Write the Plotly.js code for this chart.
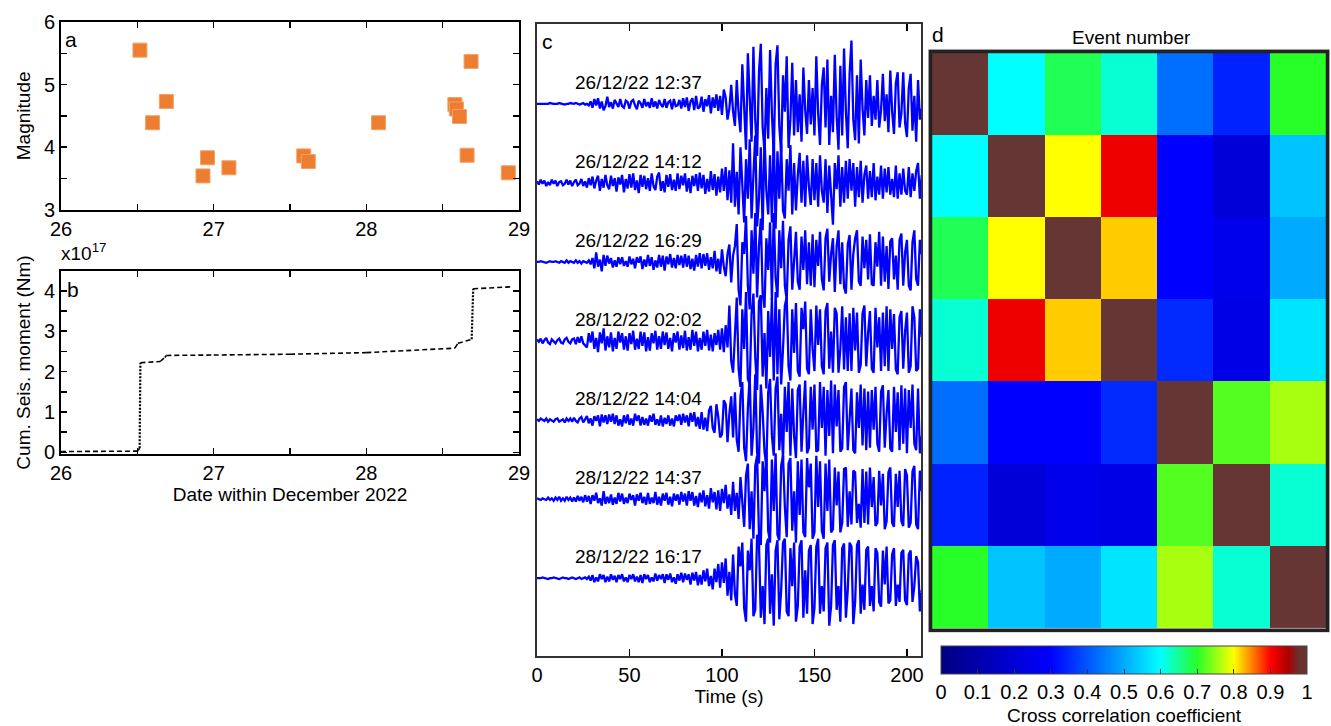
<!DOCTYPE html>
<html><head><meta charset="utf-8">
<script src="https://cdn.plot.ly/plotly-3.0.1.min.js"></script>
<style>html,body{margin:0;padding:0;background:#fff}#chart{width:1331px;height:726px}</style>
</head><body><div id="chart"></div>
<script>
// ---------- Panel a: magnitudes ----------
const magDay = [26.517, 26.60, 26.69, 26.93, 26.96, 27.10, 27.59, 27.62, 28.08, 28.58, 28.59, 28.61, 28.66, 28.686, 28.93];
const magVal = [5.55, 4.39, 4.73, 3.54, 3.83, 3.67, 3.86, 3.77, 4.39, 4.68, 4.61, 4.49, 3.87, 5.37, 3.59];

// ---------- Panel b: cumulative seismic moment (x1e17 Nm) ----------
const cumDay    = [26.00, 26.50, 26.515, 26.52, 26.65, 26.68, 26.69, 27.00, 27.50, 28.00, 28.58, 28.60, 28.69, 28.70, 28.95];
const cumMoment = [0.02, 0.03, 0.10, 2.22, 2.25, 2.35, 2.40, 2.41, 2.43, 2.47, 2.58, 2.70, 2.80, 4.05, 4.10];

// ---------- Panel c: waveforms (amplitude in % of trace spacing, 1 sample per second) ----------
const waveLabels = ['26/12/22 12:37','26/12/22 14:12','26/12/22 16:29','28/12/22 02:02','28/12/22 14:04','28/12/22 14:37','28/12/22 16:17'];
const sampleInterval = 1; // s
const w1 = [0,0,0,0,0,0,0,1,0,0, 0,0,1,0,0,-1,0,0,1,0, 0,1,0,-1,0,1,-1,0,-2,3,
 -5,6,-2,7,-6,3,-8,-3,9,-4, 2,-6,5,1,-4,6,-3,-5,4,2, -6,3,5,-2,-7,4,1,-5,6,-3,
 2,-5,7,-4,3,-6,5,-1,-4,6, -5,2,4,-7,6,-3,-2,5,-6,7, -4,8,-9,3,7,-8,10,-6,-4,9,
 -10,6,-3,11,-12,8,-5,12,-9,10, -14,18,8,-20,-6,24,-10,-28,30,-12, -36,50,-8,-58,64,10,-48,72,-20,-66,
 40,76,-30,-60,20,-44,68,-12,-66,50, 74,-28,-62,36,-10,60,-56,-20,52,-40, 30,-36,12,-48,46,-8,-38,30,-26,20,
 -40,60,-12,-52,24,46,-30,56,-52,10, -36,62,-16,-58,48,-40,70,-10,-56,38, 80,-20,-46,36,-50,56,-6,-40,30,-18,
 36,-28,10,-20,30,-30,-8,38,-22,12, -36,42,-10,-38,26,40,-30,-12,40,-24, -42,20,38,-34,10,-48,30,-20,-6];
const w2 = [2,-2,4,-1,3,-4,1,-3,4,-1, 3,-4,1,2,-3,-1,4,-2,3,-4, 1,4,-3,-1,5,-4,2,-6,6,-3,
 8,-7,3,9,-10,5,-6,10,-3,-8, 9,-4,6,-11,7,-2,10,-12,5,-7, 11,-6,12,-9,3,-13,10,-5,9,-8,
 6,-10,12,-4,-9,8,13,-10,2,-12, 10,-5,11,-9,4,-10,12,-8,9,-3, 12,-11,6,-13,9,-4,11,-10,13,-7,
 10,-14,5,-11,15,-9,11,-16,8,-12, 18,-10,20,-22,16,-25,50,-30,14,-40, 45,-10,-50,30,-20,55,-45,10,60,-55,
 -20,45,-60,58,-10,-40,35,-50,62,-58, 40,-20,50,-35,-45,30,-10,48,-40,25, -35,10,38,-25,28,-30,35,-5,-28,30,
 -22,25,-30,35,-10,-25,30,-38,22,-15, -53,25,-8,35,-30,20,-25,28,-20,30, -10,25,-30,20,-18,28,-25,10,22,-20,
 15,-18,25,-22,8,-15,22,-20,18,-12, 20,-15,5,-18,22,-20,12,-15,18,-10, -15,20,-18,12,-10,15,25,-20,10];
const w3 = [0,0,1,0,0,-1,0,1,0,0, 1,0,-1,1,0,-1,2,-1,1,0, -1,2,-1,1,-2,1,0,-1,2,-3,
 5,-8,12,-6,3,-12,9,-5,8,-2, 5,-7,2,-6,6,-3,6,-5,1,-6, 7,-3,4,-8,6,-1,7,-9,3,-6,
 9,-5,6,-10,2,-7,9,-6,8,-11, 7,-3,10,-7,5,-8,9,-4,8,-7, 10,-6,8,-9,4,-11,9,-6,11,-8,
 10,-5,11,-10,6,-8,14,-12,4,-15, 16,-6,-18,10,22,-26,8,20,48,-35, -55,25,10,58,-30,-60,40,-15,62,-45,
 20,55,-40,-58,30,-10,50,-48,62,-20, -45,40,-8,52,-30,-48,28,45,-35,10, 38,-25,-35,32,-10,40,-28,25,-30,35,
 -32,28,-5,38,-22,-36,30,42,-25,10, 30,-38,20,40,-28,25,-32,-40,22,34, -35,10,30,40,-25,-30,32,-8,28,-22,
 35,-28,-30,25,-6,38,-30,32,-25,20, -34,26,30,-22,8,-35,28,36,-30,12, 28,-30,-36,25,40,-22,-30,28,10];
const w4 = [2,-1,3,-3,1,4,-2,-4,2,-1, -3,1,3,-2,-3,2,4,-1,-3,2, 3,-4,5,-2,6,-3,-5,-8,10,-2,
 12,-10,4,-14,11,-3,16,-12,6,-8, 11,-13,4,-10,12,-2,10,-11,6,-12, 10,-4,13,-11,3,-10,12,-6,11,-13,
 5,-12,10,-3,13,-11,6,-10,12,-5, 11,-10,4,-13,10,-2,12,-11,7,-9, 13,-12,5,-11,14,-6,12,-13,4,-11,
 12,-6,14,-12,8,-13,10,-5,14,-11, 16,-14,20,-8,45,-25,-40,10,55,-35, -58,40,-10,62,-48,-55,35,60,-20,-62,
 50,58,-45,10,-60,38,-20,55,-50,62, -42,40,-55,-10,45,55,-32,-50,40,-15, 48,-38,-45,42,15,50,-35,-42,40,-10,
 -38,45,-5,40,-32,-42,38,48,-35,12, -40,42,35,-40,-10,44,-36,30,-38,35, -38,42,-12,36,-40,-30,35,45,-32,10,
 38,-35,-40,42,-8,30,-38,36,-32,44, -38,40,-10,34,-36,-42,30,38,-35,12, 36,-40,-32,44,30,-38,-35,40,5];
const w5 = [1,-1,2,0,-1,2,-2,1,0,-2, 1,2,-2,0,1,-3,2,-1,2,-2, 3,-1,-3,2,4,-3,1,5,-4,2,
 -7,5,-1,6,-8,7,-3,6,-5,7, -2,8,-5,6,-7,1,-8,6,-4,7, -6,2,-7,8,-1,6,-7,4,-6,2,
 -7,6,-2,8,-6,1,-7,6,-8,3, -5,6,-7,2,-8,6,-1,7,-6,8, -3,6,-8,9,-2,10,-8,4,-11,10,
 -12,3,-14,12,18,-10,-16,20,4,-22, -18,25,20,-28,8,30,-22,35,-25,-40, 30,48,-35,-52,15,55,-45,-10,58,-42,
 -55,45,10,-40,-58,35,52,-20,-45,40, 55,-38,8,-50,42,-15,48,-45,40,-20, -48,38,45,-40,10,50,-42,-35,42,-12,
 45,-40,-38,48,-10,42,-45,38,-20,50, -42,45,-8,38,-40,-36,42,48,-38,10, 40,-38,-42,35,-10,45,-32,40,-38,36,
 -35,38,-12,42,-30,-40,36,44,-35,8, 38,-36,-40,42,-15,35,-38,44,-30,40, -42,38,-10,45,-30,-38,40,-42,-20];
const w6 = [1,0,-1,1,0,-1,2,-1,1,-2, 2,-1,3,-2,1,-2,3,-1,2,-3, 2,-3,4,-2,3,-4,5,-3,4,-6,
 5,-2,8,-5,1,-8,10,-6,3,-5, 6,-7,2,-6,8,-3,7,-6,2,-5, 7,-1,5,-8,6,-2,8,-5,3,-7,
 8,-6,2,-5,9,-7,3,-8,7,-2, 8,-7,3,-9,7,-2,6,-7,9,-3, 7,-8,10,-2,9,-8,4,-10,8,-4,
 11,-9,5,-12,14,-4,9,-13,11,-15, 13,-5,18,-12,6,-20,22,-15,8,-25, 28,-10,-35,30,45,-38,10,-50,42,55,
 -45,-58,48,10,60,-40,-55,50,-15,58, -45,-52,42,55,-10,-48,45,52,-40,10, -55,48,-20,50,-42,-48,52,15,45,-50,
 -42,55,-10,48,-40,-50,45,-15,50,-42, -38,40,-8,35,-42,-30,38,40,-35,10, -32,36,34,-30,-6,-36,38,-30,35,-32,
 40,-10,28,-34,-30,36,-8,32,-38,-28, 34,40,-30,-35,32,-10,36,-28,-34,38, 30,-36,-30,35,42,-32,-38,36,10];
const w7 = [0,0,0,1,0,0,-1,0,0,1, 0,0,-1,0,1,0,0,-1,0,1, 0,-1,0,1,-1,0,1,-1,2,-3,
 4,-5,1,-4,5,-1,4,-5,2,-4, 5,-2,3,-5,4,-1,5,-4,1,-5, 4,-1,5,-4,2,-5,4,-6,5,-1,
 4,-5,1,-4,6,-3,4,-1,5,-6, 5,-2,6,-5,1,-7,5,-3,7,-5, 6,-2,5,-8,7,-3,8,-9,4,-8,
 10,-4,12,-10,3,-14,12,-5,18,-12, 20,-6,25,-22,8,-28,30,-20,-35,40, 15,45,-38,-55,35,10,50,-48,-40,55,
 45,-50,-10,-58,42,50,-45,5,-60,35, 48,-52,-15,45,50,-42,-48,38,-10,45, -55,-35,40,48,-50,10,-45,35,42,-58,
 -38,40,50,-45,-10,-42,38,45,-60,-35, 42,48,-40,-10,-55,38,44,-50,-15,45, 40,-58,-30,42,48,-45,-8,-40,36,40,
 -35,-10,-42,38,32,-30,-36,35,-8,40, -32,-28,30,38,-35,-8,-30,32,36,-28, -34,30,35,-30,-10,28,20,-42,-15];
const waves = [w1, w2, w3, w4, w5, w6, w7];

// ---------- Panel d: cross-correlation matrix ----------
const eventNums = [1, 2, 3, 4, 5, 6, 7];
const ccMatrix = [
  [1.00, 0.60, 0.68, 0.62, 0.43, 0.34, 0.70],
  [0.60, 1.00, 0.80, 0.91, 0.30, 0.21, 0.53],
  [0.68, 0.80, 1.00, 0.82, 0.30, 0.25, 0.50],
  [0.62, 0.91, 0.82, 1.00, 0.35, 0.24, 0.57],
  [0.43, 0.30, 0.30, 0.35, 1.00, 0.72, 0.76],
  [0.34, 0.21, 0.25, 0.24, 0.72, 1.00, 0.62],
  [0.70, 0.53, 0.50, 0.57, 0.76, 0.62, 1.00]
];
const cbTickVals = [0, 0.1, 0.2, 0.3, 0.4, 0.5, 0.6, 0.7, 0.8, 0.9, 1];
const cbTickText = ['0', '0.1', '0.2', '0.3', '0.4', '0.5', '0.6', '0.7', '0.8', '0.9', '1'];

// ---------- helpers ----------
const W = 1331, H = 726;
const fx = p => p / W, fy = p => 1 - p / H;
const FONT = '"Liberation Sans", Arial, sans-serif';
const TS = 19; // text size

const traces = [];
traces.push({type:'scatter', mode:'markers', x:magDay, y:magVal, xaxis:'x', yaxis:'y',
  marker:{symbol:'square', size:14, color:'#ED7D31', line:{color:'#F2A266', width:1}}, hoverinfo:'x+y'});

// split cumulative curve into gently sloping (dashed) and jump (dotted) segments
const dashX = [], dashY = [], dotX = [], dotY = [];
for (let i = 0; i < cumDay.length - 1; i++) {
  const slope = (cumMoment[i+1] - cumMoment[i]) / (cumDay[i+1] - cumDay[i]);
  if (slope > 20) { dotX.push(cumDay[i], cumDay[i+1], null); dotY.push(cumMoment[i], cumMoment[i+1], null); }
  else { dashX.push(cumDay[i], cumDay[i+1], null); dashY.push(cumMoment[i], cumMoment[i+1], null); }
}
traces.push({type:'scatter', mode:'lines', x:dashX, y:dashY, xaxis:'x2', yaxis:'y2', connectgaps:false,
  line:{color:'#000', width:1.6, dash:'5px,3px'}, hoverinfo:'skip'});
traces.push({type:'scatter', mode:'lines', x:dotX, y:dotY, xaxis:'x2', yaxis:'y2', connectgaps:false,
  line:{color:'#000', width:2.2, dash:'2px,1.5px'}, hoverinfo:'skip'});

const nW = waves.length;
waves.forEach((w, k) => {
  const offset = nW - k;
  traces.push({type:'scatter', mode:'lines', xaxis:'x3', yaxis:'y3',
    x: w.map((_, i) => i * sampleInterval), y: w.map(v => offset + v / 100),
    line:{color:'#0000FF', width:2.3}, name: waveLabels[k], hoverinfo:'skip'});
});

const colorscale = [
  [0, 'rgb(0,0,128)'], [0.3, 'rgb(0,0,255)'], [0.6, 'rgb(0,255,255)'], [0.7, 'rgb(40,255,40)'],
  [0.8, 'rgb(255,255,0)'], [0.9, 'rgb(255,0,0)'], [0.95, 'rgb(170,0,0)'], [0.975, 'rgb(110,45,45)'], [1, 'rgb(102,54,52)']
];
traces.push({type:'heatmap', z:ccMatrix, x:eventNums, y:eventNums, xaxis:'x4', yaxis:'y4',
  colorscale, zmin:0, zmax:1, hoverinfo:'z',
  colorbar:{orientation:'h', x:fx(1124), xanchor:'center', y:fy(646), yanchor:'top',
    len:366 / W, lenmode:'fraction', thickness:28, thicknessmode:'pixels', xpad:0, ypad:0,
    outlinewidth:1, outlinecolor:'#444', ticks:'inside', ticklen:5, tickcolor:'#333', tickwidth:1,
    tickvals:cbTickVals, ticktext:cbTickText, tickfont:{family:FONT, size:20, color:'#000'},
    title:{text:'Cross correlation coefficient', side:'bottom', font:{family:FONT, size:TS, color:'#000'}}}});

const boxAxis = {showline:true, linecolor:'#000', linewidth:2, mirror:'ticks', ticks:'inside', ticklen:6,
  tickwidth:1.5, tickcolor:'#000', showgrid:false, zeroline:false, tickfont:{family:FONT, size:20, color:'#000'}};
const minorTicks = {ticks:'inside', ticklen:6, dtick:0.5, tickcolor:'#000', tickwidth:1.5};
const titleFont = {family:FONT, size:TS, color:'#000'};

const ann = (text, x, y, extra) => Object.assign({text, x, y, xref:'paper', yref:'paper', showarrow:false,
  xanchor:'left', yanchor:'middle', font:{family:FONT, size:21, color:'#000'}}, extra || {});

const annotations = [
  ann('a', fx(63), fy(40)),
  ann('b', fx(65), fy(290)),
  ann('c', fx(540), fy(42)),
  ann('d', fx(930), fy(35)),
  ann('Event number', fx(1131), fy(38), {xanchor:'center', font:{family:FONT, size:TS, color:'#000'}}),
  ann('x10<sup>17</sup>', fx(59), fy(252), {font:{family:FONT, size:TS, color:'#000'}})
];
waveLabels.forEach((t, k) => {
  annotations.push({text:t, x:19.5, y:(nW - k) + 0.27, xref:'x3', yref:'y3', showarrow:false,
    xanchor:'left', yanchor:'middle', font:{family:FONT, size:TS, color:'#000'}});
});

const layout = {
  width:W, height:H, margin:{l:0, r:0, t:0, b:0}, paper_bgcolor:'#fff', plot_bgcolor:'#fff',
  showlegend:false, font:{family:FONT, size:TS, color:'#000'},
  xaxis: Object.assign({}, boxAxis, {domain:[fx(61), fx(519)], range:[26, 29], dtick:1, tick0:26, minor:minorTicks, anchor:'y'}),
  yaxis: Object.assign({}, boxAxis, {domain:[fy(210), fy(22)], range:[3, 6], dtick:1, tick0:3, minor:minorTicks, anchor:'x',
    title:{text:'Magnitude', font:titleFont, standoff:8}}),
  xaxis2: Object.assign({}, boxAxis, {domain:[fx(61), fx(519)], range:[26, 29], dtick:1, tick0:26, minor:minorTicks, anchor:'y2',
    title:{text:'Date within December 2022', font:titleFont, standoff:4}}),
  yaxis2: Object.assign({}, boxAxis, {domain:[fy(455), fy(271)], range:[-0.05, 4.5], tickvals:[0, 1, 2, 3, 4], minor:minorTicks, anchor:'x2',
    title:{text:'Cum. Seis. moment (Nm)', font:titleFont, standoff:8}}),
  xaxis3: Object.assign({}, boxAxis, {domain:[fx(537), fx(921)], range:[0, 207.6], tickvals:[0, 50, 100, 150, 200], ticklen:7,
    linecolor:'#333', anchor:'y3', title:{text:'Time (s)', font:titleFont, standoff:4}}),
  yaxis3: {domain:[fy(657), fy(24)], range:[0.015, 8.01], showline:true, linecolor:'#333', linewidth:2, mirror:true,
    ticks:'', showticklabels:false, showgrid:false, zeroline:false, anchor:'x3'},
  xaxis4: {domain:[fx(932), fx(1326)], range:[0.5, 7.5], visible:false, anchor:'y4'},
  yaxis4: {domain:[fy(629), fy(53)], range:[7.5, 0.5], visible:false, anchor:'x4'},
  shapes: [
    {type:'rect', xref:'paper', yref:'paper', x0:fx(928.5), x1:fx(1329.5), y0:fy(633), y1:fy(49.5), line:{color:'#c8c8c8', width:1}},
    {type:'rect', xref:'paper', yref:'paper', x0:fx(930.5), x1:fx(1327.5), y0:fy(631), y1:fy(51.5), line:{color:'#222', width:3.5}}
  ],
  annotations
};

Plotly.newPlot('chart', traces, layout, {staticPlot:true, displayModeBar:false});
</script>
</body></html>
